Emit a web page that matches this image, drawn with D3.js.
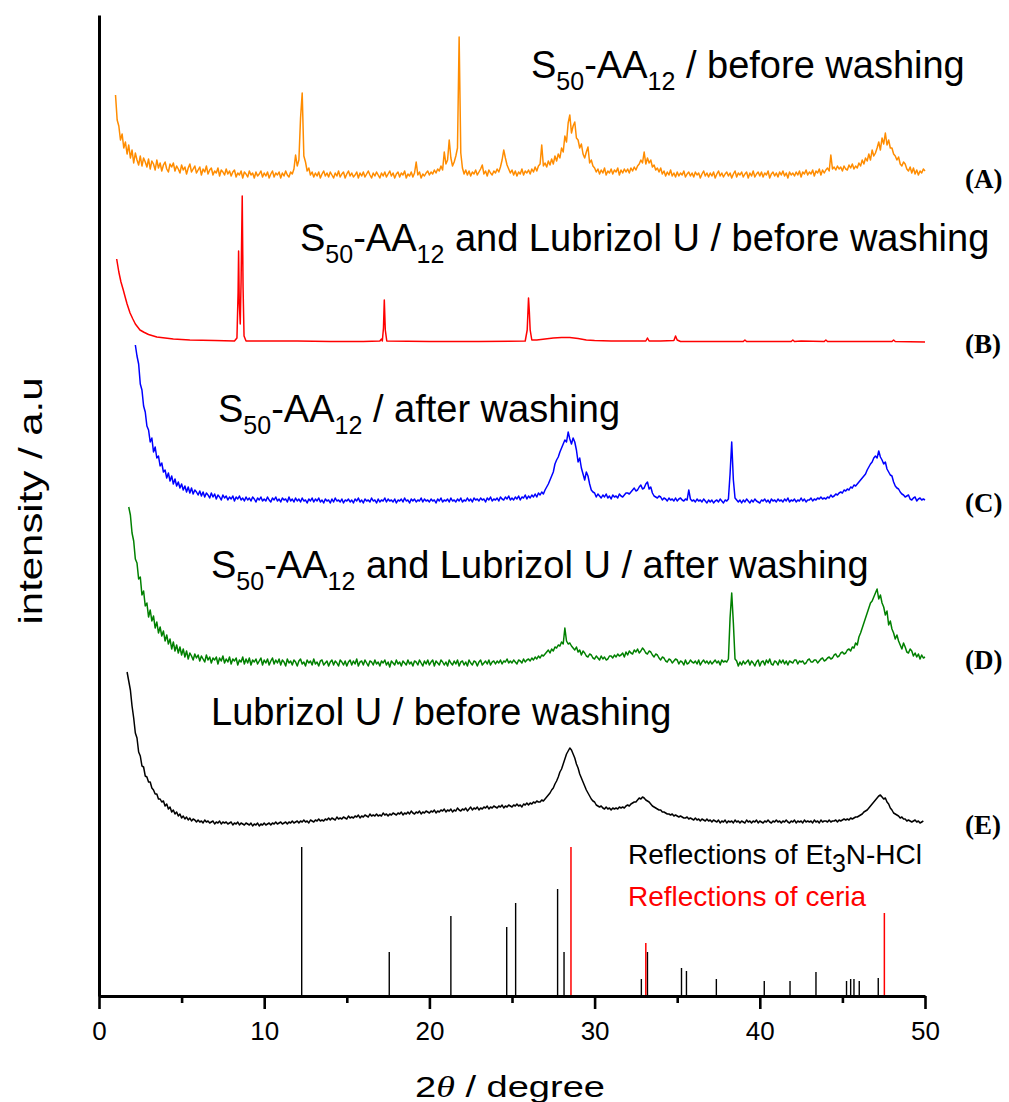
<!DOCTYPE html>
<html>
<head>
<meta charset="utf-8">
<script src="https://cdn.jsdelivr.net/npm/d3@7/dist/d3.min.js"></script>
<style>
  html, body { margin: 0; padding: 0; background: #fff; }
  svg { display: block; }
</style>
</head>
<body>
<svg id="chart" width="1009" height="1102"></svg>
<script>
// XRD scans recorded with a 0.1 degree step; each row is [first 2theta, intensities...]
// intensities are in arbitrary units above each pattern's own baseline
const scanStep = 0.1;

const scanA = [
  [1.0, [83,58,52,38,44,30,36,24,33,20]],
  [2.0, [28,15,25,18,13,22,12,20,16,11]],
  [3.0, [19,9,17,14,8,18,10,15,7,13]],
  [4.0, [16,9,6,14,11,15,7,12,9,5]],
  [5.0, [13,8,11,4,10,14,6,9,12,5]],
  [6.0, [8,11,3,9,6,12,4,8,10,3]],
  [7.0, [7,5,10,2,8,6,3,9,4,7]],
  [8.0, [2,6,8,1,5,3,7,0,6,4]],
  [9.0, [1,7,3,5,0,6,2,4,7,1]],
  [10.0, [5,2,6,0,4,7,1,5,3,6]],
  [11.0, [0,5,2,7,3,1,6,4,9,23]],
  [12.0, [12,18,60,85,22,16,7,10,3,6]],
  [13.0, [1,5,2,6,0,4,7,2,5,1]],
  [14.0, [6,3,0,5,2,7,1,4,6,0]],
  [15.0, [4,7,2,5,1,3,6,0,5,2]],
  [16.0, [6,1,4,7,3,0,5,2,6,3]],
  [17.0, [0,5,2,6,1,4,7,2,5,0]],
  [18.0, [4,6,1,5,3,7,0,4,2,6]],
  [19.0, [1,5,16,3,6,0,4,2,5,7]],
  [20.0, [3,6,4,8,5,9,7,12,8,26]],
  [21.0, [14,18,38,20,12,16,22,30,141,25]],
  [22.0, [10,4,8,3,7,2,6,4,8,3]],
  [23.0, [6,9,13,4,7,2,8,5,3,7]],
  [24.0, [5,9,6,11,18,28,20,13,9,5]],
  [25.0, [8,3,7,2,6,4,9,3,7,5]],
  [26.0, [8,4,9,6,11,7,12,14,33,12]],
  [27.0, [15,11,17,13,19,14,22,17,24,20]],
  [28.0, [30,26,42,36,55,63,45,52,56,40]],
  [29.0, [38,30,34,24,20,26,31,15,18,12]],
  [30.0, [10,6,9,4,8,5,10,3,7,5]],
  [31.0, [9,4,8,6,10,3,8,5,9,6]],
  [32.0, [9,5,10,7,11,8,12,14,18,15]],
  [33.0, [26,14,20,15,18,11,13,8,10,6]],
  [34.0, [10,4,7,2,6,3,8,2,5,1]],
  [35.0, [6,2,5,3,7,1,4,6,2,5]],
  [36.0, [1,6,3,5,0,4,7,2,5,1]],
  [37.0, [5,2,6,0,4,7,2,5,1,4]],
  [38.0, [6,2,5,0,4,7,1,5,3,6]],
  [39.0, [1,4,6,0,5,2,7,1,4,6]],
  [40.0, [2,6,1,5,3,7,0,4,6,2]],
  [41.0, [5,1,6,3,7,2,5,0,6,3]],
  [42.0, [5,2,6,3,7,1,6,4,8,3]],
  [43.0, [6,4,8,2,7,5,9,3,8,5]],
  [44.0, [8,10,7,23,9,11,8,12,9,11]],
  [45.0, [7,12,9,8,13,10,14,9,12,10]],
  [46.0, [15,12,18,14,20,17,24,18,28,22]],
  [47.0, [25,30,36,28,40,34,45,33,38,30]],
  [48.0, [30,24,22,18,21,14,12,16,14,9]],
  [49.0, [7,11,5,10,4,8,3,7,5,9]],
  [50.0, [7]]
];

// smooth pattern with very sharp lines: listed as [2theta, intensity] pairs
const traceB = [[1.07,83],[1.2,70],[1.33,60],[1.47,52],[1.6,44],[1.7,38],[1.88,29],[2.05,23],[2.2,18],[2.48,12],[2.75,9.5],[3.0,7.5],[3.5,5],[4.0,4],[4.5,3],[5.5,2],[7.0,1.5],[8.2,1],[8.35,4],[8.42,50],[8.45,91],[8.49,40],[8.55,18],[8.6,60],[8.67,146],[8.72,55],[8.78,6],[8.9,1],[10,1],[12,1],[14,0.5],[16,0.5],[17.0,1],[17.1,3],[17.15,1],[17.22,14],[17.27,42],[17.33,12],[17.42,1],[20,0.5],[23,0.5],[25.8,1],[25.92,12],[26.0,44],[26.05,30],[26.1,12],[26.2,2],[26.5,2],[27,3],[27.5,4],[28,4.5],[28.5,4.5],[29,3.5],[29.5,2],[30,1.5],[31,1],[32,1],[33.1,1],[33.2,4],[33.3,1],[34.0,1],[34.8,1.5],[34.9,6],[35.0,2],[35.2,0.5],[37,0.5],[39.0,0.5],[39.1,2],[39.2,0.5],[41.9,0.5],[42.0,2],[42.1,0.5],[42.5,1],[43.9,0.5],[44.0,2],[44.1,0.5],[48.0,0.5],[48.1,2],[48.2,0.5],[50,0]];

const scanC = [
  [2.2, [157,146,138,118,112,96,90,76]],
  [3.0, [72,60,64,50,55,44,46,36,39,30]],
  [4.0, [32,24,29,21,26,18,23,16,20,14]],
  [5.0, [18,12,16,10,15,9,14,8,12,10]],
  [6.0, [7,11,6,10,5,9,7,4,9,5]],
  [7.0, [8,3,7,5,2,7,4,6,2,5]],
  [8.0, [3,6,1,5,3,6,2,4,1,5]],
  [9.0, [2,4,1,5,3,0,4,2,5,1]],
  [10.0, [3,1,5,2,0,4,2,5,1,3]],
  [11.0, [0,4,2,3,0,5,1,3,0,4]],
  [12.0, [1,3,0,4,1,2,-1,3,1,4]],
  [13.0, [0,3,1,4,0,2,-1,3,1,2]],
  [14.0, [-1,3,0,4,1,2,0,3,-1,2]],
  [15.0, [1,3,0,2,-1,3,1,4,0,2]],
  [16.0, [-1,3,1,2,0,4,1,2,-1,3]],
  [17.0, [0,2,1,4,0,3,1,2,0,3]],
  [18.0, [-1,2,1,3,0,4,1,2,-1,3]],
  [19.0, [1,3,0,2,1,4,0,3,1,2]],
  [20.0, [0,3,1,2,-1,3,1,4,0,2]],
  [21.0, [1,3,0,4,1,2,0,3,1,4]],
  [22.0, [0,2,1,4,1,3,0,4,2,3]],
  [23.0, [1,4,2,3,0,4,2,5,1,3]],
  [24.0, [2,4,1,5,3,2,5,3,6,2]],
  [25.0, [4,2,5,3,6,2,5,4,7,3]],
  [26.0, [6,4,7,5,8,5,9,7,10,8]],
  [27.0, [12,15,18,22,26,30,38,42,45,50]],
  [28.0, [54,58,62,60,70,63,58,64,60,52]],
  [29.0, [40,44,34,28,22,30,26,18,12,10]],
  [30.0, [9,5,8,6,4,7,5,8,4,6]],
  [31.0, [3,7,5,6,4,8,6,5,7,9]],
  [32.0, [9,8,10,12,14,11,12,15,17,13]],
  [33.0, [14,18,20,13,15,9,6,5,4,6]],
  [34.0, [5,2,4,3,1,4,2,3,1,4]],
  [35.0, [1,3,4,2,1,3,2,12,3,1]],
  [36.0, [2,0,3,1,2,0,3,1,-1,2]],
  [37.0, [0,2,-1,1,2,0,3,1,-1,2]],
  [38.0, [1,3,28,60,22,4,2,0,2,-1]],
  [39.0, [2,0,3,1,-1,2,0,3,1,0]],
  [40.0, [-1,2,1,3,0,2,-1,3,1,2]],
  [41.0, [0,3,1,2,0,3,1,4,0,2]],
  [42.0, [1,3,0,2,1,4,1,3,0,2]],
  [43.0, [2,4,1,3,2,4,3,5,3,4]],
  [44.0, [3,5,4,7,5,6,8,7,9,10]],
  [45.0, [9,12,11,13,12,15,14,17,16,18]],
  [46.0, [20,22,24,26,28,32,35,38,40,44]],
  [47.0, [46,44,51,45,42,38,40,33,30,27]],
  [48.0, [26,20,16,14,13,10,8,7,5,6]],
  [49.0, [7,3,2,4,5,1,3,4,2,3]],
  [50.0, [2]]
];

const scanD = [
  [1.8, [156,148]],
  [2.0, [130,122,104,100,84,86,68,72,57,60]],
  [3.0, [46,53,42,47,35,41,30,36,27,32]],
  [4.0, [22,28,19,24,14,21,12,18,10,16]],
  [5.0, [8,14,6,12,4,10,7,3,9,5]],
  [6.0, [8,2,7,4,1,8,3,6,0,5]],
  [7.0, [3,6,-1,5,2,7,0,4,1,6]],
  [8.0, [-1,4,2,5,-2,3,1,6,-1,4]],
  [9.0, [0,5,-2,3,1,4,-1,2,5,-2]],
  [10.0, [3,0,4,-2,2,5,-1,3,0,4]],
  [11.0, [-2,3,1,-3,4,0,2,-2,3,1]],
  [12.0, [-3,2,4,-1,1,-3,3,0,2,-2]],
  [13.0, [4,-1,1,-3,2,3,-2,0,2,-3]],
  [14.0, [1,3,-2,2,0,-3,3,1,-2,2]],
  [15.0, [-3,1,3,-2,2,-1,4,-3,1,2]],
  [16.0, [-2,3,0,-3,2,1,-2,3,-1,1]],
  [17.0, [-3,2,0,3,-2,1,-4,2,0,-2]],
  [18.0, [3,-1,1,-3,2,0,-2,3,-1,1]],
  [19.0, [-3,2,1,-2,3,0,-3,2,-1,3]],
  [20.0, [-2,1,3,-3,2,0,-2,3,1,-2]],
  [21.0, [1,-3,3,0,-2,2,-1,3,-3,1]],
  [22.0, [2,-2,1,-3,3,0,-2,2,1,-3]],
  [23.0, [1,3,-2,0,2,-1,3,-2,1,2]],
  [24.0, [-1,2,0,3,-1,2,1,4,0,2]],
  [25.0, [0,3,1,-1,3,2,0,4,1,3]],
  [26.0, [4,2,5,3,6,4,7,5,8,7]],
  [27.0, [9,11,13,10,14,12,16,15,18,17]],
  [28.0, [21,19,35,22,19,20,17,15,13,16]],
  [29.0, [11,13,8,12,10,7,6,9,8,5]],
  [30.0, [4,7,5,3,7,4,6,3,4,7]],
  [31.0, [7,5,8,6,9,7,8,10,6,11]],
  [32.0, [8,12,10,9,13,11,14,10,12,15]],
  [33.0, [13,10,9,12,11,8,6,9,8,5]],
  [34.0, [3,6,5,2,1,4,3,0,2,4]],
  [35.0, [3,-1,2,1,-2,3,-1,0,3,1]],
  [36.0, [0,2,-1,3,-2,1,3,0,2,-1]],
  [37.0, [2,-1,1,3,0,2,-2,3,1,2]],
  [38.0, [1,4,45,70,40,4,2,-3,1,-2]],
  [39.0, [2,-1,1,3,-2,2,0,-3,1,3]],
  [40.0, [-3,1,2,-2,3,0,4,-1,-2,2]],
  [41.0, [1,-2,3,0,3,-1,2,-2,2,1]],
  [42.0, [0,3,3,-1,2,1,2,-1,0,3]],
  [43.0, [4,1,1,3,3,0,2,4,5,2]],
  [44.0, [3,5,6,4,5,8,9,6,7,10]],
  [45.0, [11,9,10,13,14,12,16,15,20,18]],
  [46.0, [26,30,35,40,45,50,55,60,62,66]],
  [47.0, [70,74,64,68,60,56,48,52,38,42]],
  [48.0, [34,30,24,28,22,18,14,20,16,11]],
  [49.0, [10,14,12,7,10,6,9,4,8,5]],
  [50.0, [6]]
];

const scanE = [
  [1.7, [152,143,134]],
  [2.0, [118,106,91,86,72,68,58,57,48,47]],
  [3.0, [42,42,36,34,30,30,25,25,22,23]],
  [4.0, [18,20,15,17,12,14,10,12,8,10]],
  [5.0, [6,8,5,7,4,6,3,5,4,2]],
  [6.0, [4,2,3,1,4,2,3,1,2,3]],
  [7.0, [0,2,1,3,0,2,1,2,0,1]],
  [8.0, [2,-1,1,0,2,-1,1,0,-1,1]],
  [9.0, [0,-1,1,-2,0,-1,1,-2,0,-1]],
  [10.0, [1,-1,0,1,-1,1,0,2,0,1]],
  [11.0, [2,0,1,2,0,2,1,3,1,2]],
  [12.0, [3,1,3,2,4,2,3,1,4,3]],
  [13.0, [2,4,3,5,3,4,3,5,4,6]],
  [14.0, [4,6,5,4,7,5,6,5,7,6]],
  [15.0, [5,8,6,7,6,8,7,9,6,8]],
  [16.0, [7,9,8,7,10,8,9,8,10,8]],
  [17.0, [9,8,11,9,10,8,10,9,11,10]],
  [18.0, [9,11,10,12,9,11,10,12,10,13]],
  [19.0, [11,10,12,11,13,10,12,11,13,12]],
  [20.0, [11,13,12,14,11,13,12,14,13,15]],
  [21.0, [12,14,13,15,12,14,13,16,14,13]],
  [22.0, [15,14,16,13,15,17,14,16,15,17]],
  [23.0, [14,16,15,17,16,18,15,17,16,18]],
  [24.0, [17,16,18,17,19,16,18,17,19,18]],
  [25.0, [17,19,18,20,18,19,17,20,19,21]],
  [26.0, [19,21,20,22,21,23,22,22,24,23]],
  [27.0, [25,27,29,31,34,36,40,43,47,52]],
  [28.0, [55,60,65,70,73,76,74,70,66,60]],
  [29.0, [56,50,46,42,38,34,31,28,25,23]],
  [30.0, [22,19,18,17,18,16,15,17,15,16]],
  [31.0, [14,16,15,16,15,17,16,17,16,18]],
  [32.0, [19,18,20,21,22,22,24,26,25,27]],
  [33.0, [26,24,23,22,20,18,17,16,15,14]],
  [34.0, [14,12,12,11,10,10,9,10,8,9]],
  [35.0, [8,7,8,7,6,6,7,5,6,5]],
  [36.0, [4,6,4,5,3,5,4,3,5,3]],
  [37.0, [4,2,4,3,2,4,1,3,2,4]],
  [38.0, [1,3,2,3,1,4,2,3,1,3]],
  [39.0, [2,1,4,2,3,1,3,2,4,1]],
  [40.0, [3,2,1,3,2,4,2,1,3,2]],
  [41.0, [4,2,3,1,3,2,4,2,1,3]],
  [42.0, [2,4,1,3,2,3,1,4,2,3]],
  [43.0, [2,3,1,4,2,3,1,4,2,3]],
  [44.0, [3,2,4,2,3,3,4,2,4,3]],
  [45.0, [4,5,4,5,4,6,5,6,7,7]],
  [46.0, [8,9,10,12,13,14,16,18,20,22]],
  [47.0, [24,26,28,29,27,25,26,22,20,16]],
  [48.0, [14,11,10,9,8,6,7,5,5,3]],
  [49.0, [4,3,2,3,4,2,3,1,2,3]]
];

// vertical stacking offsets of the five patterns (A..E)
const traceOffsets = [818, 654, 494, 333, 172];
const traceLetters = ["(A)", "(B)", "(C)", "(D)", "(E)"];

// reference reflections: [2theta, relative intensity]
const reflEt3NHCl = [[12.27,149],[17.57,44],[21.3,80],[24.68,69],[25.22,93],[27.76,107],[28.15,44],[32.83,17],[33.2,44],[35.26,28],[35.56,25],[37.37,17],[40.27,15],[41.83,15],[43.4,24],[45.25,15],[45.5,17],[45.7,17],[46.02,15],[47.17,18]];
const reflCeria = [[28.57,149],[33.1,53],[47.54,83]];

const xMajorTicks = [0, 10, 20, 30, 40, 50];
const xMinorTicks = [5, 15, 25, 35, 45];

// sample captions; each part is [text, isSubscript]
const captions = [
  [["S",0],["50",1],["-AA",0],["12",1],[" / before washing",0]],
  [["S",0],["50",1],["-AA",0],["12",1],[" and Lubrizol U / before washing",0]],
  [["S",0],["50",1],["-AA",0],["12",1],[" / after washing",0]],
  [["S",0],["50",1],["-AA",0],["12",1],[" and Lubrizol U / after washing",0]],
  [["Lubrizol U / before washing",0]]
];

// turn scan rows into [2theta, intensity] points
function expandScan(rows) {
  const pts = [];
  rows.forEach(([start, vals]) => {
    vals.forEach((v, j) => pts.push([+(start + j * scanStep).toFixed(2), v]));
  });
  return pts;
}

const traces = [expandScan(scanA), traceB, expandScan(scanC), expandScan(scanD), expandScan(scanE)];
const colors = ["#ff8c00", "#ff0000", "#0000ff", "#008000", "#000000"];

const svg = d3.select("#chart");
const x = d3.scaleLinear().domain([0, 50]).range([99, 925]);
const y = d3.scaleLinear().domain([0, 981]).range([996, 15]);

// patterns
traces.forEach((t, i) => {
  const off = traceOffsets[i];
  const line = d3.line().x(d => x(d[0])).y(d => y(d[1] + off));
  svg.append("path")
    .datum(t)
    .attr("d", line)
    .attr("fill", "none")
    .attr("stroke", colors[i])
    .attr("stroke-width", 1.5)
    .attr("stroke-linejoin", "round");
});

// reflection sticks
svg.append("g").selectAll("line").data(reflEt3NHCl).join("line")
  .attr("x1", d => x(d[0])).attr("x2", d => x(d[0]))
  .attr("y1", y(0)).attr("y2", d => y(d[1]))
  .attr("stroke", "#000").attr("stroke-width", 1.4);
svg.append("g").selectAll("line").data(reflCeria).join("line")
  .attr("x1", d => x(d[0])).attr("x2", d => x(d[0]))
  .attr("y1", y(0)).attr("y2", d => y(d[1]))
  .attr("stroke", "#ff0000").attr("stroke-width", 1.5);

// axes
const gx = svg.append("g").attr("transform", `translate(0,${y(0)})`)
  .call(d3.axisBottom(x).tickValues(xMajorTicks).tickSize(13).tickSizeOuter(0).tickPadding(13));
gx.select(".domain").attr("stroke-width", 3);
gx.selectAll(".tick line").attr("stroke-width", 2.6);
gx.selectAll(".tick text").attr("font-family", "Liberation Sans, Arial, sans-serif").attr("font-size", 26).attr("fill", "#000");

const gxm = svg.append("g").attr("transform", `translate(0,${y(0)})`)
  .call(d3.axisBottom(x).tickValues(xMinorTicks).tickSize(7).tickSizeOuter(0).tickFormat(""));
gxm.select(".domain").remove();
gxm.selectAll(".tick line").attr("stroke-width", 2.6);

const gy = svg.append("g").attr("transform", `translate(${x(0)},0)`)
  .call(d3.axisLeft(y).tickValues([]).tickSizeOuter(0));
gy.select(".domain").attr("stroke-width", 3);

// axis titles
const xt = svg.append("text")
  .attr("x", 510).attr("y", 1097)
  .attr("text-anchor", "middle")
  .attr("font-family", "Liberation Sans, Arial, sans-serif")
  .attr("font-size", 29)
  .attr("textLength", 190).attr("lengthAdjust", "spacingAndGlyphs");
xt.append("tspan").text("2");
xt.append("tspan").attr("font-family", "Liberation Serif, Times New Roman, serif").attr("font-style", "italic").text("θ");
xt.append("tspan").text(" / degree");

svg.append("text")
  .attr("transform", "translate(42,501) rotate(-90)")
  .attr("text-anchor", "middle")
  .attr("font-family", "Liberation Sans, Arial, sans-serif")
  .attr("font-size", 33)
  .attr("textLength", 247).attr("lengthAdjust", "spacingAndGlyphs")
  .text("intensity / a.u");

// sample captions
const captionPos = [[531, 78], [300, 251], [218, 422], [211, 578], [211, 725]];
captions.forEach((parts, i) => {
  const t = svg.append("text")
    .attr("x", captionPos[i][0]).attr("y", captionPos[i][1])
    .attr("font-family", "Liberation Sans, Arial, sans-serif")
    .attr("font-size", 38).attr("fill", "#000");
  let shifted = false;
  parts.forEach(([s, sub]) => {
    const ts = t.append("tspan").text(s);
    if (sub && !shifted) { ts.attr("dy", 12).attr("font-size", 25); shifted = true; }
    else if (sub) { ts.attr("font-size", 25); }
    else if (shifted) { ts.attr("dy", -12); shifted = false; }
  });
});

// pattern letters
const letterY = [188, 353, 512, 669, 834];
traceLetters.forEach((s, i) => {
  svg.append("text")
    .attr("x", 965).attr("y", letterY[i])
    .attr("font-family", "Liberation Serif, Times New Roman, serif")
    .attr("font-weight", "bold").attr("font-size", 27)
    .text(s);
});

// reflection legend
const l1 = svg.append("text").attr("x", 628).attr("y", 864)
  .attr("font-family", "Liberation Sans, Arial, sans-serif").attr("font-size", 28).attr("fill", "#000");
l1.append("tspan").text("Reflections of Et");
l1.append("tspan").attr("dy", 8).attr("font-size", 25).text("3");
l1.append("tspan").attr("dy", -8).text("N-HCl");
svg.append("text").attr("x", 628).attr("y", 906)
  .attr("font-family", "Liberation Sans, Arial, sans-serif").attr("font-size", 28).attr("fill", "#ff0000")
  .text("Reflections of ceria");
</script>
</body>
</html>
